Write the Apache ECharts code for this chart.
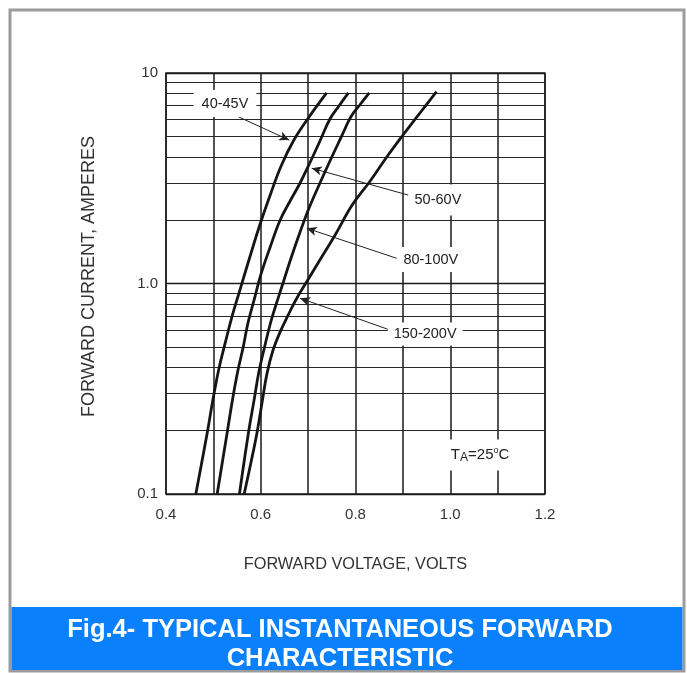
<!DOCTYPE html>
<html>
<head>
<meta charset="utf-8">
<script src="https://cdn.jsdelivr.net/npm/echarts@6/dist/echarts.min.js"></script>
<style>
html,body{margin:0;padding:0;background:#fff;}
#chart{width:687px;height:673px;}
</style>
</head>
<body>
<div id="chart"></div>
<script>
// ---- data ----
var seriesNames = ['40-45V', '50-60V', '80-100V', '150-200V'];
var curve40_45 = [[0.463,0.1],[0.487,0.195],[0.499,0.280],[0.512,0.397],[0.525,0.522],[0.539,0.693],[0.556,0.931],[0.577,1.336],[0.598,1.896],[0.620,2.633],[0.643,3.616],[0.670,4.805],[0.702,6.18],[0.739,8.04]];
var curve50_60 = [[0.508,0.1],[0.529,0.195],[0.541,0.286],[0.552,0.388],[0.563,0.499],[0.573,0.649],[0.586,0.835],[0.600,1.098],[0.620,1.491],[0.641,2.003],[0.662,2.466],[0.683,3.002],[0.704,3.757],[0.725,4.754],[0.746,6.046],[0.765,6.968],[0.785,8.04]];
var curve80_100 = [[0.555,0.1],[0.574,0.195],[0.586,0.280],[0.596,0.380],[0.607,0.488],[0.620,0.642],[0.630,0.765],[0.645,0.973],[0.664,1.322],[0.683,1.757],[0.702,2.284],[0.725,3.002],[0.748,3.904],[0.772,5.077],[0.790,6.18],[0.809,7.047],[0.829,8.04]];
var curve150_200 = [[0.565,0.1],[0.579,0.140],[0.592,0.195],[0.603,0.274],[0.613,0.372],[0.626,0.483],[0.641,0.589],[0.658,0.709],[0.674,0.835],[0.698,1.028],[0.721,1.251],[0.757,1.70],[0.793,2.36],[0.831,3.068],[0.866,3.99],[0.902,5.13],[0.936,6.457],[0.971,8.15]];
var xTickValues = [0.4, 0.6, 0.8, 1.0, 1.2];
var xTickLabels = ['0.4', '0.6', '0.8', '1.0', '1.2'];
var yTickValues = [0.1, 1, 10];
var yTickLabels = ['0.1', '1.0', '10'];
var yMinorGrid = [0.2,0.3,0.4,0.5,0.6,0.7,0.8,0.9,2,3,4,5,6,7,8,9];
// annotation anchors (data coordinates)
var arrowFrom = [[0.549,6.25],[0.9115,2.63],[0.887,1.317],[0.873,0.601]];
var arrowTo   = [[0.660,4.80],[0.7075,3.53],[0.697,1.83],[0.683,0.851]];
var labelAt   = [[0.5245,7.16],[0.974,2.49],[0.959,1.30],[0.947,0.5755]];
var labelPad  = [[6,8],[8,6],[5,3],[4,6]];
var condText = 'T{a|A}=25{o|o}C';
var condAt = [1.063, 0.153];

var chart = echarts.init(document.getElementById('chart'), null, {renderer:'canvas'});
var regular = '"Liberation Sans", Arial, sans-serif';
var curves = [curve40_45, curve50_60, curve80_100, curve150_200];

var series = curves.map(function (d, i) {
  return {
    name: seriesNames[i], type: 'line', data: d, smooth: 0.4, showSymbol: false, z: 5,
    lineStyle: {color: '#151515', width: 2.8}, silent: true
  };
});
series.push({
  type: 'line', data: [], silent: true, z: 2,
  markLine: {
    silent: true, symbol: ['none','none'], label: {show: false},
    lineStyle: {color: '#262626', width: 1.2, type: 'solid'},
    data: yMinorGrid.map(function (v) { return {yAxis: v}; })
  }
});
series.push({
  type: 'line', data: [], silent: true, z: 6,
  markLine: {
    silent: true, symbol: ['none','arrow'], symbolSize: [7, 10], label: {show: false},
    lineStyle: {color: '#222', width: 1, type: 'solid'},
    data: arrowFrom.map(function (f, i) { return [{coord: f}, {coord: arrowTo[i]}]; })
  }
});
var pts = labelAt.map(function (p, i) {
  return {coord: p, value: seriesNames[i],
    label: {show: true, position: 'inside', formatter: seriesNames[i], color: '#222',
      fontFamily: regular, fontSize: 14.5, backgroundColor: '#fff', padding: labelPad[i]}};
});
pts.push({coord: condAt, value: 'TA',
  label: {show: true, position: 'inside', formatter: condText, color: '#222',
    fontFamily: regular, fontSize: 15, backgroundColor: '#fff', padding: [6,3],
    rich: {a: {fontFamily: regular, fontSize: 12, color: '#222', verticalAlign: 'bottom', padding:[0,0,1,0]},
           o: {fontFamily: regular, fontSize: 9, color: '#222', verticalAlign: 'top', padding:[0,0,10,0]}}}});
series.push({
  type: 'line', data: [], silent: true, z: 8,
  markPoint: {silent: true, symbol: 'rect', symbolSize: 1, itemStyle: {color: 'rgba(0,0,0,0)'}, data: pts}
});

chart.setOption({
  animation: false,
  backgroundColor: '#fff',
  graphic: [
    {type: 'rect', z: -10, shape: {x: 10, y: 10, width: 674, height: 661}, style: {fill: '#fff', stroke: '#9b9b9b', lineWidth: 3}},
    {type: 'rect', z: -9, shape: {x: 11.5, y: 607, width: 671, height: 63}, style: {fill: '#0a80fc'}},
    {type: 'text', z: 10, x: 340, y: 615,
      style: {text: 'Fig.4- TYPICAL INSTANTANEOUS FORWARD\nCHARACTERISTIC', align: 'center', verticalAlign: 'top',
        fill: '#fff', font: 'bold 25.5px "Liberation Sans", Arial, sans-serif', lineHeight: 29}}
  ],
  grid: {left: 166, right: 142, top: 73, bottom: 179, show: true, borderColor: '#222', borderWidth: 1.4, backgroundColor: 'transparent'},
  xAxis: {
    type: 'value', min: 0.4, max: 1.2, interval: 0.1,
    name: 'FORWARD VOLTAGE, VOLTS', nameLocation: 'middle', nameGap: 63,
    nameTextStyle: {fontFamily: regular, fontSize: 16.3, color: '#333'},
    axisLine: {show: false}, axisTick: {show: false},
    splitLine: {show: true, lineStyle: {color: '#1a1a1a', width: 1.5}},
    axisLabel: {margin: 13, color: '#333', fontFamily: regular, fontSize: 15,
      formatter: function (v) {
        for (var i = 0; i < xTickValues.length; i++) if (Math.abs(v - xTickValues[i]) < 1e-6) return xTickLabels[i];
        return '';
      }}
  },
  yAxis: {
    type: 'log', logBase: 10, min: 0.1, max: 10,
    name: 'FORWARD CURRENT, AMPERES', nameLocation: 'middle', nameGap: 68, nameRotate: 90,
    nameTextStyle: {fontFamily: regular, fontSize: 18, color: '#333', padding: [0,0,0,14]},
    axisLine: {show: false}, axisTick: {show: false},
    splitLine: {show: true, lineStyle: {color: '#1a1a1a', width: 1.3}},
    axisLabel: {margin: 8, color: '#333', fontFamily: regular, fontSize: 15,
      formatter: function (v) {
        for (var i = 0; i < yTickValues.length; i++) if (Math.abs(Math.log10(v) - Math.log10(yTickValues[i])) < 1e-6) return yTickLabels[i];
        return '';
      }}
  },
  series: series
});
</script>
</body>
</html>
